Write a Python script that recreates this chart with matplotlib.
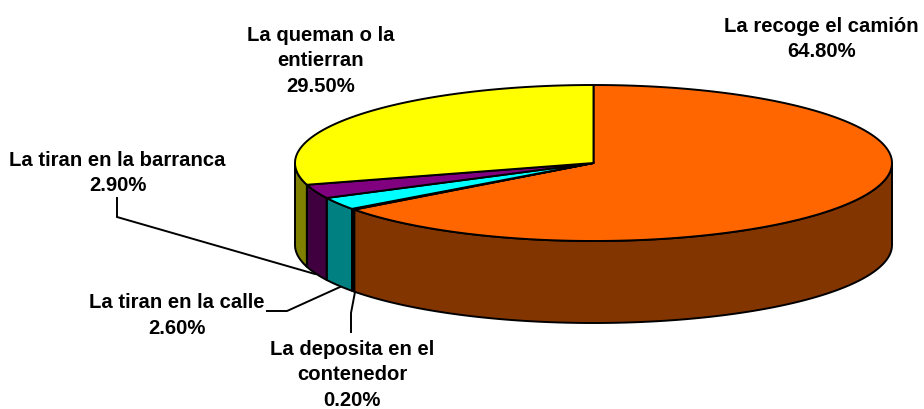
import numpy as np
import matplotlib
matplotlib.use("Agg")
import matplotlib.pyplot as plt

# Data, clockwise from 12 o'clock
categories = ["La recoge el camión", "La deposita en el\ncontenedor", "La tiran en la calle",
              "La tiran en la barranca", "La queman o la\nentierran"]
values = [64.8, 0.2, 2.6, 2.9, 29.5]
top_colors = ["#FF6600", "#000000", "#00FFFF", "#800080", "#FFFF00"]
side_colors = ["#833500", "#000000", "#008080", "#400040", "#808000"]

# Layout (pixels)
CX, CY, RX, RY, DEPTH = 593.5, 163.0, 298.5, 78.0, 82.0
label_pos = [(821.5, 39), (352, 375), (177, 315.5), (117.5, 173), (321, 61)]
leaders = [
    [(117, 198), (117, 217), (315, 274)],
    [(267, 311), (287, 311), (340, 287)],
    [(351, 332), (351, 313), (355, 292)],
]
LW = 1.4
FS = 14.6

fig = plt.figure(figsize=(9.24, 4.09), dpi=100, facecolor="white")
ax = fig.add_axes([0, 0, 1, 1])
ax.set_xlim(0, 924)
ax.set_ylim(409, 0)
ax.axis("off")


def rim(t0, t1, n=200):
    t = np.radians(np.linspace(t0, t1, n))
    return CX + RX * np.sin(t), CY - RY * np.cos(t)


edges = np.concatenate([[0], np.cumsum(values)]) * 3.6

# Side walls: only the near half of the rim (90..270 degrees) shows
for t0, t1, col in zip(edges[:-1], edges[1:], side_colors):
    a, b = max(t0, 90), min(t1, 270)
    if a >= b:
        continue
    x, y = rim(a, b)
    ax.fill(np.r_[x, x[::-1]], np.r_[y, y[::-1] + DEPTH], facecolor=col,
            edgecolor="black", lw=LW, joinstyle="round", zorder=2)

# Top face
for t0, t1, col in zip(edges[:-1], edges[1:], top_colors):
    x, y = rim(t0, t1)
    ax.fill(np.r_[CX, x], np.r_[CY, y], facecolor=col,
            edgecolor="black", lw=LW, joinstyle="round", zorder=3)

# Leader lines
for pts in leaders:
    xs, ys = zip(*pts)
    ax.plot(xs, ys, color="black", lw=LW, zorder=1, solid_joinstyle="miter")

# Labels
for name, v, (x, y) in zip(categories, values, label_pos):
    ax.text(x, y, f"{name}\n{v:.2f}%", ha="center", va="center", ma="center",
            family="Liberation Sans", weight="bold", fontsize=FS, color="black",
            linespacing=1.46, zorder=5)

fig.savefig("out.png", dpi=100, facecolor="white")
